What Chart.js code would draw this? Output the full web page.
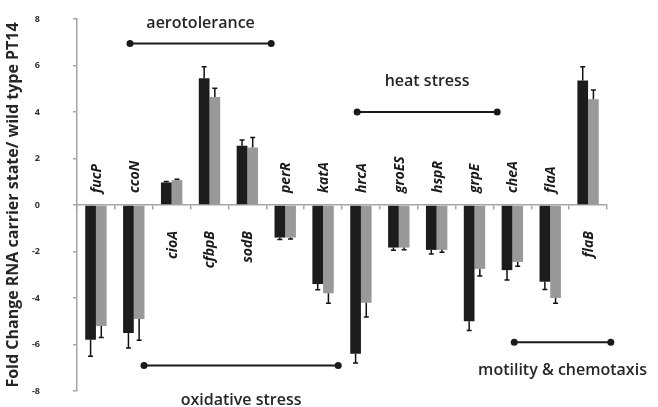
<!DOCTYPE html>
<html>
<head>
<meta charset="utf-8">
<script src="https://cdn.jsdelivr.net/npm/chart.js@4.4.1/dist/chart.umd.min.js"></script>
<style>
  html, body { margin: 0; padding: 0; background: #fff; }
  #wrap { width: 658px; height: 407px; }
</style>
</head>
<body>
<div id="wrap"><canvas id="chart"></canvas></div>
<script>
const genes = ['fucP', 'ccoN', 'cioA', 'cfbpB', 'sodB', 'perR', 'katA', 'hrcA', 'groES', 'hspR', 'grpE', 'cheA', 'flaA', 'flaB'];
const black = [-5.8, -5.5, 0.97, 5.45, 2.55, -1.4, -3.4, -6.4, -1.83, -1.93, -5.0, -2.8, -3.3, 5.35];
const blackErr = [0.7, 0.65, 0.04, 0.5, 0.25, 0.08, 0.25, 0.4, 0.12, 0.18, 0.4, 0.43, 0.33, 0.6];
const gray = [-5.2, -4.9, 1.07, 4.65, 2.47, -1.4, -3.8, -4.2, -1.83, -1.93, -2.75, -2.45, -4.0, 4.55];
const grayErr = [0.5, 0.92, 0.04, 0.37, 0.43, 0.06, 0.43, 0.62, 0.1, 0.1, 0.3, 0.18, 0.23, 0.4];
const yTicks = [-8, -6, -4, -2, 0, 2, 4, 6, 8];

// functional groups: name, first/last category (fractional index), y of line, y of text
const groupNames = ['aerotolerance', 'heat stress', 'oxidative stress', 'motility & chemotaxis'];
const groupFrom = [0.9, 6.9, 1.27, 11.05];
const groupTo = [4.63, 10.6, 6.4, 13.6];
const groupLineY = [6.95, 4.0, -6.9, -5.9];
const groupTextY = [7.8, 5.3, -8.4, -7.1];

const ctx = document.getElementById('chart').getContext('2d');

const errorBars = {
  id: 'errorBars',
  afterDatasetsDraw(chart) {
    const c = chart.ctx;
    const y = chart.scales.y;
    [blackErr, grayErr].forEach((errs, d) => {
      const vals = chart.data.datasets[d].data;
      chart.getDatasetMeta(d).data.forEach((bar, i) => {
        const v = vals[i];
        const y0 = y.getPixelForValue(v);
        const y1 = y.getPixelForValue(v + Math.sign(v) * errs[i]);
        c.save();
        c.strokeStyle = '#111';
        c.lineWidth = 1.5;
        c.beginPath();
        c.moveTo(bar.x, y0);
        c.lineTo(bar.x, y1);
        c.moveTo(bar.x - 2.5, y1);
        c.lineTo(bar.x + 2.5, y1);
        c.stroke();
        c.restore();
      });
    });
  }
};

const geneLabels = {
  id: 'geneLabels',
  afterDatasetsDraw(chart) {
    const c = chart.ctx;
    const x = chart.scales.x, y = chart.scales.y;
    const y0 = y.getPixelForValue(0);
    genes.forEach((g, i) => {
      const up = Math.max(black[i], gray[i]) > 0;
      c.save();
      c.translate(x.getPixelForValue(i) + 1, up ? y0 + 26 : y0 - 12);
      c.rotate(-Math.PI / 2);
      c.font = 'italic bold 14px "Open Sans"';
      c.fillStyle = '#1a1a1a';
      c.textAlign = up ? 'right' : 'left';
      c.textBaseline = 'middle';
      c.fillText(g, 0, 0);
      c.restore();
    });
  }
};

const groups = {
  id: 'groups',
  afterDraw(chart) {
    const c = chart.ctx;
    const x = chart.scales.x, y = chart.scales.y;
    groupNames.forEach((name, i) => {
      const x1 = x.getPixelForValue(groupFrom[i]);
      const x2 = x.getPixelForValue(groupTo[i]);
      const ly = y.getPixelForValue(groupLineY[i]);
      c.save();
      c.strokeStyle = '#1a1a1a';
      c.fillStyle = '#1a1a1a';
      c.lineWidth = 2;
      c.beginPath();
      c.moveTo(x1, ly);
      c.lineTo(x2, ly);
      c.stroke();
      [x1, x2].forEach(px => {
        c.beginPath();
        c.arc(px, ly, 3.5, 0, Math.PI * 2);
        c.fill();
      });
      c.font = '600 16px "Open Sans"';
      c.fillStyle = '#262626';
      c.textAlign = 'center';
      c.textBaseline = 'middle';
      c.fillText(name, (x1 + x2) / 2, y.getPixelForValue(groupTextY[i]));
      c.restore();
    });
  }
};

let chart = new Chart(ctx, {
  type: 'bar',
  data: {
    labels: genes,
    datasets: [
      { label: 'black', data: black, backgroundColor: '#1c1c1c', categoryPercentage: 0.565, barPercentage: 1.0 },
      { label: 'gray', data: gray, backgroundColor: '#999999', categoryPercentage: 0.565, barPercentage: 1.0 }
    ]
  },
  options: {
    responsive: true,
    maintainAspectRatio: false,
    animation: false,
    layout: { padding: { top: 19, bottom: 16, right: 51, left: 0 } },
    plugins: { legend: { display: false }, tooltip: { enabled: false } },
    scales: {
      x: {
        position: { y: 0 },
        ticks: { display: false },
        grid: { drawOnChartArea: false, tickLength: 4, color: '#a6a6a6', lineWidth: 1.5 },
        border: { color: '#a6a6a6', width: 1.5 }
      },
      y: {
        min: -8,
        max: 8,
        afterFit(s) {
          s.width = 77;
          s.paddingTop = 5;
          s.paddingBottom = 5;
        },
        afterBuildTicks(s) { s.ticks = yTicks.map(v => ({ value: v })); },
        ticks: {
          padding: 33,
          color: '#333',
          font: { family: 'Open Sans', size: 9, weight: 'bold' }
        },
        grid: { drawOnChartArea: false, tickLength: 4, color: '#a6a6a6', lineWidth: 1.5 },
        border: { color: '#a6a6a6', width: 1.5 },
        title: {
          display: true,
          text: 'Fold Change RNA carrier state/ wild type PT14',
          color: '#262626',
          font: { family: 'Open Sans', size: 16, weight: 'bold' },
          padding: { top: 4, bottom: 0 }
        }
      }
    }
  },
  plugins: [errorBars, geneLabels, groups]
});
</script>
</body>
</html>
